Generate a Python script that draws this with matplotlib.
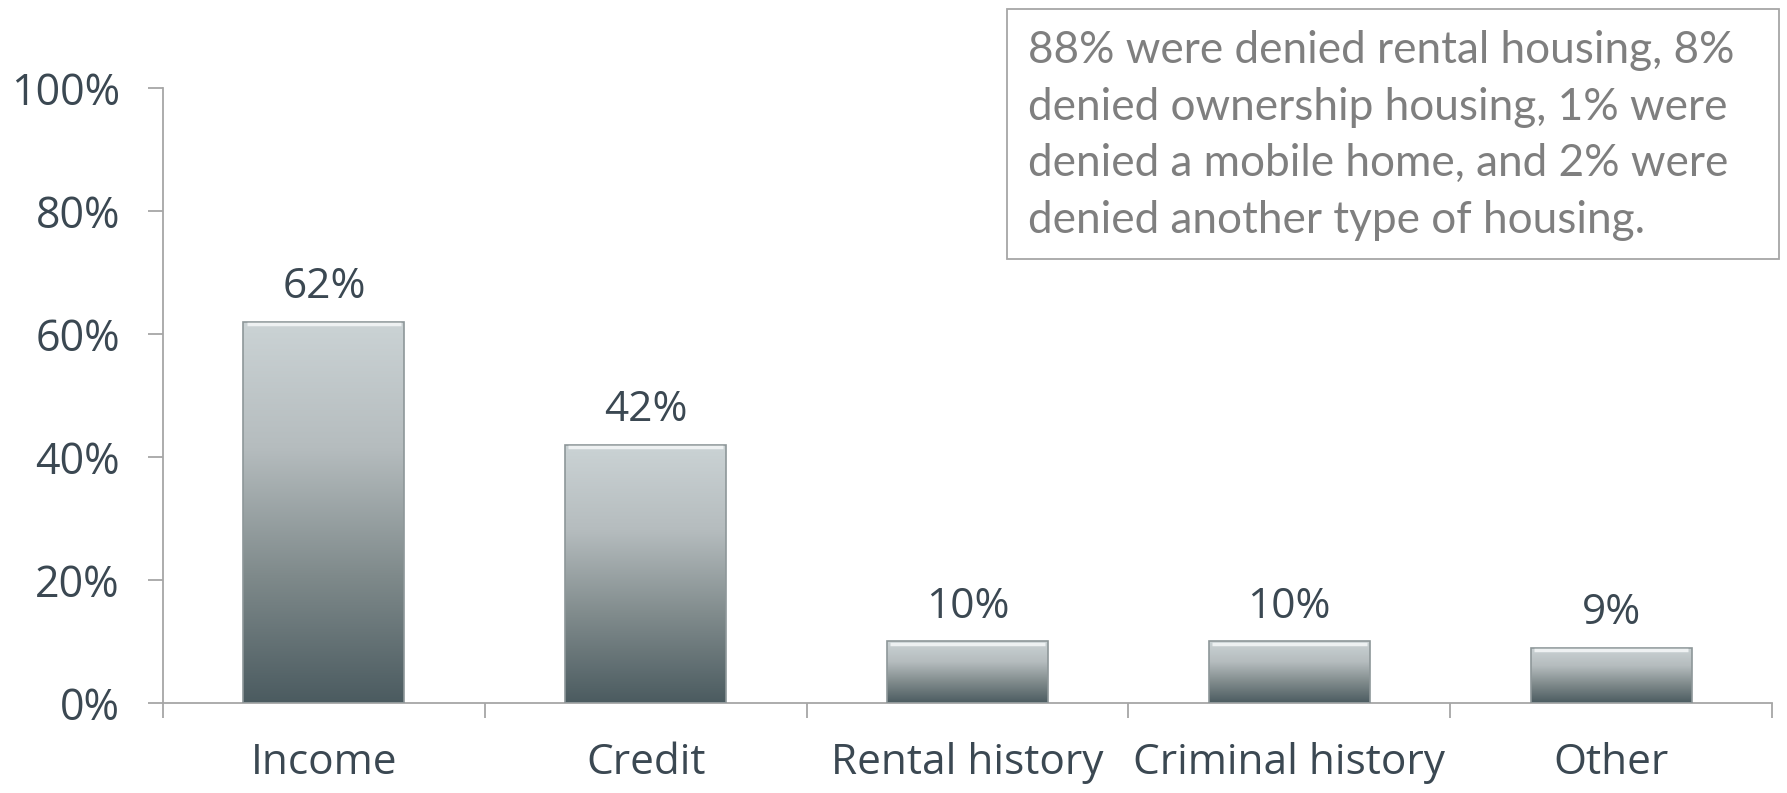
import numpy as np
import matplotlib.pyplot as plt
from matplotlib.colors import LinearSegmentedColormap
from matplotlib.patches import Rectangle
from matplotlib.ticker import FixedLocator, NullFormatter

categories = ['Income', 'Credit', 'Rental history', 'Criminal history', 'Other']
values = [62, 42, 10, 10, 9]
yticks = [0, 20, 40, 60, 80, 100]
note = ('88% were denied rental housing, 8%\n'
        'denied ownership housing, 1% were\n'
        'denied a mobile home, and 2% were\n'
        'denied another type of housing.')

dark = '#3b4852'
axis_grey = '#a6a6a6'
grad = LinearSegmentedColormap.from_list('bar', ['#4b5b60', '#7f8a8b', '#b5bcbe', '#cbd3d5'])

fig = plt.figure(figsize=(17.87, 7.93), dpi=100)
ax = fig.add_axes([0.0912, 0.1135, 0.9004, 0.7755])

x = np.arange(len(categories))
bars = ax.bar(x, values, width=0.5, color='none', edgecolor='#8e9799', linewidth=1.2, zorder=3)

# vertical gradient fill clipped to each bar
g = np.linspace(0, 1, 256).reshape(-1, 1)
for b in bars:
    x0, w, h = b.get_x(), b.get_width(), b.get_height()
    im = ax.imshow(g, cmap=grad, aspect='auto', origin='lower',
                   extent=[x0, x0 + w, 0, h], zorder=2, interpolation='bicubic')
    im.set_clip_path(b)
    # light top bevel
    ax.plot([x0 + 0.01, x0 + w - 0.01], [h - 0.35, h - 0.35], color='#eef1f2', lw=2.5, zorder=4,
            solid_capstyle='butt')
    ax.text(x0 + w / 2, h + 2.2, f'{int(h)}%', ha='center', va='bottom',
            fontsize=30.5, color=dark, family='Open Sans')

ax.set_xlim(-0.5, len(categories) - 0.5)
ax.set_ylim(0, 100)

ax.set_yticks(yticks)
ax.set_yticklabels([f'{t}%' for t in yticks])
ax.xaxis.set_major_locator(FixedLocator(np.arange(len(categories) + 1) - 0.5))
ax.xaxis.set_major_formatter(NullFormatter())
ax.xaxis.set_minor_locator(FixedLocator(x))
ax.set_xticklabels(categories, minor=True)

ax.tick_params(axis='y', direction='out', length=11, width=1.3, color=axis_grey,
               labelsize=31, labelcolor=dark, pad=20)
ax.tick_params(axis='x', which='major', direction='out', length=11, width=1.3, color=axis_grey)
ax.tick_params(axis='x', which='minor', length=0, labelsize=30.5, labelcolor=dark, pad=28)
for lab in ax.get_yticklabels() + ax.get_xticklabels(minor=True):
    lab.set_family('Open Sans')

for s in ['top', 'right']:
    ax.spines[s].set_visible(False)
for s in ['left', 'bottom']:
    ax.spines[s].set_color(axis_grey)
    ax.spines[s].set_linewidth(1.3)

# note box
fig.patches.append(Rectangle((0.5635, 0.673), 0.432, 0.3157, transform=fig.transFigure,
                             facecolor='white', edgecolor='#a6a6a6', linewidth=1.3))
fig.text(0.5753, 0.962, note, ha='left', va='top', fontsize=31.8, color='#7f7f7f',
         family='Lato', linespacing=1.47)

fig.savefig('out.png', dpi=100)
